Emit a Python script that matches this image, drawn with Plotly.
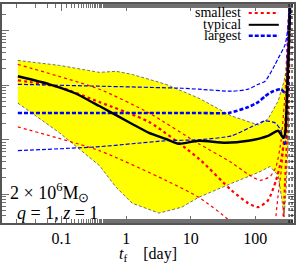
import plotly.graph_objects as go

# ---- data ----
t_band_up = [0.021, 0.093, 0.385, 0.70, 1.24, 4.12, 13.3, 42.8, 111, 158, 226, 279, 300, 322, 345]
y_band_up = [285, 231, 172, 180, 158, 104, 58, 27.3, 18.7, 24.1, 51.2, 118, 180, 631, 4000]
t_band_lo = [0.021, 0.093, 0.385, 0.70, 1.24, 3.22, 7.27, 13.3, 42.8, 111, 170, 226, 260, 279, 300, 322, 345]
y_band_lo = [47.1, 13.4, 3.37, 1.34, 0.686, 0.452, 0.58, 0.881, 1.585, 2.51, 3.23, 2.21, 0.778, 0.382, 1.18, 9.6, 4000]

t_typ = [0.021, 0.065, 0.158, 0.385, 1.24, 2.26, 4.12, 6.53, 13.3, 34.5, 78, 158, 226, 270, 290, 311, 334, 350]
y_typ = [146, 104, 72, 41.5, 19.5, 13.4, 10.4, 8.45, 9.6, 8.8, 9.6, 11.8, 14.6, 10.9, 12.9, 78, 631, 4000]

t_big1 = [0.021, 0.385, 7.27, 13.3, 42.8, 78, 111, 142, 203, 226, 290, 322, 345]
y_big1 = [104, 96, 88, 84.6, 77.8, 84.6, 104, 118, 241, 309, 556, 1175, 4000]
t_big2 = [0.021, 0.385, 13.3, 38.4, 78, 111, 142, 189, 251, 300, 322, 345]
y_big2 = [31, 31, 31, 31, 39.8, 49.1, 63, 77.8, 84.6, 68.5, 415, 5000]
t_big3 = [0.021, 0.385, 1.24, 4.12, 13.3, 42.8, 100, 142, 203, 251, 290, 311, 334, 350]
y_big3 = [6.31, 7.46, 8.45, 9.6, 10, 11.8, 18.7, 22.1, 20.4, 14.6, 7.78, 30, 600, 5000]

t_sml1 = [0.021, 0.385, 2.26, 13.3, 42.8, 78, 119, 170, 210, 251, 290, 322, 345]
y_sml1 = [241, 84.6, 31, 8.45, 3.82, 2.31, 1.8, 2.12, 3.23, 9.6, 77.8, 1458, 4000]
t_sml2 = [0.021, 0.093, 0.385, 2.26, 13.3, 42.8, 78, 111, 158, 210, 251, 290, 322, 345]
y_sml2 = [123, 92, 49.1, 21.2, 4.52, 1.18, 0.686, 0.58, 0.778, 1.8, 4.15, 14.6, 273, 4000]
t_sml3 = [0.021, 0.385, 4.12, 13.3, 41.2, 54.7]
y_sml3 = [17.2, 6.31, 1.8, 0.881, 0.31, 0.146]
t_sml4 = [345, 300, 263, 226, 203]
y_sml4 = [4000, 51.2, 4.15, 0.96, 0.285]
t_sml5 = [358, 322, 290, 270]
y_sml5 = [4000, 33.7, 1.8, 0.285]

t_marks = [334, 371]

x_ticks = [0.1, 1, 10, 100]
x_ticktext = ["0.1", "1", "10", "100"]

legend_names = ["smallest", "typical", "largest"]

RED = "#ff0000"
BLUE = "#0000ff"
GRAY = "#707070"
FONT = "Liberation Serif"

fig = go.Figure()

# yellow band
fig.add_trace(go.Scatter(
    x=t_band_up + t_band_lo[::-1], y=y_band_up + y_band_lo[::-1],
    fill="toself", fillcolor="#ffff00", line=dict(width=0), mode="lines",
    hoverinfo="skip"))
for tx, ty in [(t_band_up, y_band_up), (t_band_lo, y_band_lo)]:
    fig.add_trace(go.Scatter(x=tx, y=ty, mode="lines",
                             line=dict(color=GRAY, width=1, dash="3px,2px")))

# smallest (red dotted)
for tx, ty, w in [(t_sml1, y_sml1, 1.2), (t_sml3, y_sml3, 1.2), (t_sml4, y_sml4, 1.2),
                  (t_sml2, y_sml2, 2.2), (t_sml5, y_sml5, 2.0)]:
    fig.add_trace(go.Scatter(x=tx, y=ty, mode="lines",
                             line=dict(color=RED, width=w, dash="dot", shape="spline", smoothing=0.6)))

# largest (blue dashed)
for tx, ty, w in [(t_big1, y_big1, 1.2), (t_big3, y_big3, 1.2), (t_big2, y_big2, 2.6)]:
    fig.add_trace(go.Scatter(x=tx, y=ty, mode="lines",
                             line=dict(color=BLUE, width=w, dash="4px,2px", shape="spline", smoothing=0.6)))

# typical (black)
fig.add_trace(go.Scatter(x=t_typ, y=y_typ, mode="lines",
                         line=dict(color="black", width=2.4, shape="spline", smoothing=0.6)))

for tm in t_marks:
    fig.add_vline(x=tm, line=dict(color="black", width=1, dash="dot"))

axis_common = dict(
    type="log", showgrid=False, zeroline=False, ticks="inside", ticklen=7, tickwidth=1,
    tickcolor=GRAY, mirror="allticks", showline=True, linecolor="#555555", linewidth=1.5,
    minor=dict(ticks="inside", ticklen=4, tickwidth=1, tickcolor=GRAY, showgrid=False),
)
fig.update_xaxes(range=[-1.923, 2.6], tickvals=x_ticks, ticktext=x_ticktext,
                 tickfont=dict(family=FONT, size=16, color="black"),
                 title=dict(text="<i>t</i><sub>f</sub>&nbsp;&nbsp;&nbsp;&nbsp;[day]", standoff=0,
                            font=dict(family=FONT, size=16, color="black")),
                 **axis_common)
fig.update_yaxes(range=[-0.527, 3.49], showticklabels=False, dtick=1, **axis_common)

# legend drawn manually (text left of sample)
leg_y = [0.959, 0.905, 0.855]
leg_styles = [dict(color=RED, width=2, dash="dot"),
              dict(color="black", width=2),
              dict(color=BLUE, width=2.5, dash="4px,2px")]
for name, yy, st in zip(legend_names, leg_y, leg_styles):
    fig.add_annotation(x=0.825, y=yy, xref="paper", yref="paper", text=name, showarrow=False,
                       xanchor="right", yanchor="middle", font=dict(family=FONT, size=14, color="black"))
    fig.add_shape(type="line", xref="paper", yref="paper", x0=0.845, x1=0.948, y0=yy, y1=yy, line=st)

fig.add_annotation(x=0.02, y=0.14, xref="paper", yref="paper", showarrow=False,
                   text="2 × 10<sup>6</sup>M<sub>⊙</sub>", xanchor="left", yanchor="middle",
                   font=dict(family=FONT, size=18, color="black"))
fig.add_annotation(x=0.045, y=0.045, xref="paper", yref="paper", showarrow=False,
                   text="<i>q</i> = 1, <i>z</i> = 1", xanchor="left", yanchor="middle",
                   font=dict(family=FONT, size=18, color="black"))

fig.update_layout(width=298, height=264, margin=dict(l=2, r=2, t=2, b=41),
                  paper_bgcolor="white", plot_bgcolor="white", showlegend=False,
                  font=dict(family=FONT, size=15, color="black"))

fig.write_html("out.html", config={"displayModeBar": False},
               post_script="document.body.style.margin='0';document.body.style.overflow='hidden';")
